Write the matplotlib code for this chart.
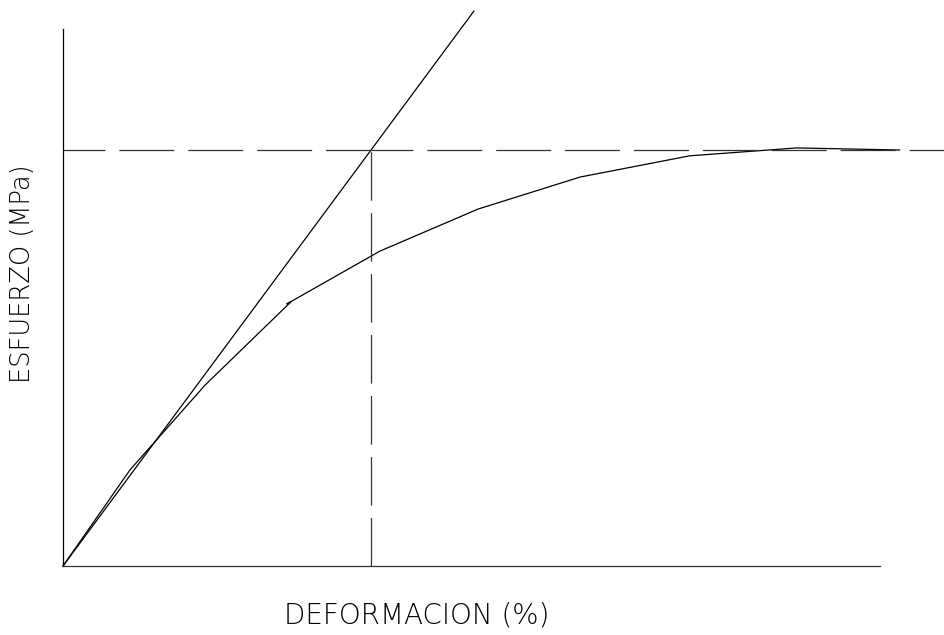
import matplotlib
matplotlib.use("Agg")
import matplotlib.pyplot as plt

# ── Datos ─────────────────────────────────────────────────
deformacion = [0.0, 0.82, 1.74, 2.79, 2.74, 3.88, 5.08, 6.33, 7.67, 8.98, 10.24]
esfuerzo    = [0.0, 23.1, 43.5, 63.5, 63.0, 75.7, 85.8, 93.5, 98.6, 100.5, 100.0]

# recta elástica
recta_x = [0.0, 5.03]
recta_y = [0.0, 133.4]

# punto de fluencia
fluencia_x = 3.77
fluencia_y = 100.0

# largo de los ejes
eje_x_max = 10.0
eje_y_max = 129.1

plt.rcParams["lines.scale_dashes"] = False

fig = plt.figure(figsize=(9.45, 6.35), dpi=100)
fig.patch.set_facecolor("white")
ax = fig.add_axes([0, 0, 1, 1])
ax.set_xlim(-0.771, 10.796)
ax.set_ylim(-16.59, 136.06)
ax.axis("off")

LW = 0.9
TRAZO_H = (9.4, (39.6, 10.0))   # guion largo, hueco corto
TRAZO_V = (0.0, (34.9, 9.0))

# ejes
ax.plot([0, 0], [0, eje_y_max], color="black", lw=LW)
ax.plot([0, eje_x_max], [0, 0], color="#333333", lw=LW)

# recta y curva
ax.plot(recta_x, recta_y, color="black", lw=LW)
ax.plot(deformacion, esfuerzo, color="black", lw=LW)

# líneas de fluencia (discontinuas), la horizontal en dos tramos como en CAD
ax.plot([0, fluencia_x], [fluencia_y, fluencia_y], color="#333333", lw=LW,
        linestyle=TRAZO_H)
ax.plot([fluencia_x, 10.9], [fluencia_y, fluencia_y], color="#333333", lw=LW,
        linestyle=TRAZO_H)
ax.plot([fluencia_x, fluencia_x], [0, fluencia_y], color="#333333", lw=LW,
        linestyle=TRAZO_V)

fuente = dict(family=["DejaVu Sans"], fontweight="light", color="black")
fig.text(0.441, 0.030, "DEFORMACION (%)", ha="center", va="center",
         fontsize=20, **fuente)
fig.text(0.0243, 0.5685, "ESFUERZO (MPa)", ha="center", va="center",
         rotation=90, fontsize=18.5, **fuente)

plt.savefig("out.png", dpi=100, facecolor="white")
